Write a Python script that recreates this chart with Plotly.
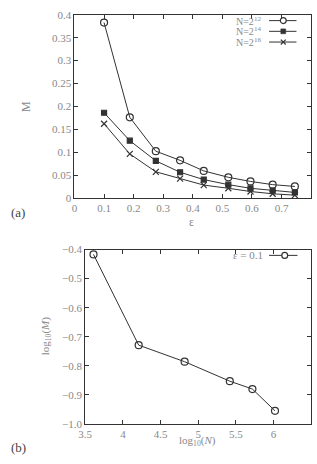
import plotly.graph_objects as go

# Panel (a) data
eps = [0.1, 0.187, 0.275, 0.357, 0.437, 0.52, 0.595, 0.67, 0.745]
m_n12 = [0.383, 0.176, 0.102, 0.082, 0.059, 0.045, 0.036, 0.029, 0.025]
m_n14 = [0.186, 0.125, 0.081, 0.056, 0.040, 0.029, 0.021, 0.016, 0.012]
m_n16 = [0.162, 0.096, 0.057, 0.042, 0.028, 0.021, 0.014, 0.009, 0.006]
names_a = ["N=2<sup>12</sup>", "N=2<sup>14</sup>", "N=2<sup>16</sup>"]

# Panel (b) data
log_n = [3.61, 4.21, 4.82, 5.42, 5.72, 6.02]
log_m = [-0.417, -0.729, -0.786, -0.853, -0.880, -0.955]
name_b = "ε = 0.1"

LINE = "#333333"
GRAY = "#888888"
FONT = "Liberation Serif, serif"

fig = go.Figure()
symbols = ["circle-open", "square", "x-thin-open"]
kinds = ["circle", "square", "x"]
sizes = [7, 5, 6]
for ys, nm, sym, sz in zip([m_n12, m_n14, m_n16], names_a, symbols, sizes):
    fig.add_trace(go.Scatter(
        x=eps, y=ys, name=nm, mode="lines+markers", showlegend=False,
        line=dict(color=LINE, width=1),
        marker=dict(symbol=sym, size=sz, color=LINE, line=dict(color=LINE, width=1.2)),
        xaxis="x", yaxis="y"))

fig.add_trace(go.Scatter(
    x=log_n, y=log_m, name=name_b, mode="lines+markers", showlegend=False,
    line=dict(color=LINE, width=1),
    marker=dict(symbol="circle-open", size=7, color=LINE, line=dict(color=LINE, width=1.2)),
    xaxis="x2", yaxis="y2"))

W, H = 317, 464
def px(x): return x / W
def py(y): return 1 - y / H

axis_common = dict(showline=True, linecolor=LINE, linewidth=1, mirror="ticks",
                   ticks="inside", ticklen=4, tickcolor=LINE, showgrid=False,
                   zeroline=False, tickfont=dict(family=FONT, size=11, color=GRAY))

fig.update_layout(
    width=W, height=H, margin=dict(l=0, r=0, t=0, b=0),
    paper_bgcolor="white", plot_bgcolor="white",
    font=dict(family=FONT, color=GRAY),
    xaxis=dict(domain=[px(69), px(311)], range=[0, 0.8], dtick=0.1, anchor="y", **axis_common),
    yaxis=dict(domain=[py(197), py(9)], range=[0, 0.4], dtick=0.05, anchor="x", **axis_common),
    xaxis2=dict(domain=[px(80), px(311)], range=[3.5, 6.5], dtick=0.5, anchor="y2", **axis_common),
    yaxis2=dict(domain=[py(429), py(250)], range=[-1, -0.4], dtick=0.1, anchor="x2",
                tickformat=".1f", **axis_common),
    showlegend=False,
)

# gnuplot-style key: label, then a sample line with the marker
shapes = []
def key_sample(y, xl, xr, xm, kind):
    yy = py(y)
    shapes.append(dict(type="line", x0=px(xl), x1=px(xr), y0=yy, y1=yy,
                       line=dict(color=LINE, width=1)))
    if kind == "circle":
        r = 3
        shapes.append(dict(type="circle", x0=px(xm - r), x1=px(xm + r), y0=py(y + r), y1=py(y - r),
                           line=dict(color=LINE, width=1.2), fillcolor="white"))
    elif kind == "square":
        r = 2.5
        shapes.append(dict(type="rect", x0=px(xm - r), x1=px(xm + r), y0=py(y + r), y1=py(y - r),
                           line=dict(color=LINE, width=0.5), fillcolor=LINE))
    else:
        r = 2.5
        shapes.append(dict(type="line", x0=px(xm - r), x1=px(xm + r), y0=py(y + r), y1=py(y - r),
                           line=dict(color=LINE, width=1.2)))
        shapes.append(dict(type="line", x0=px(xm - r), x1=px(xm + r), y0=py(y - r), y1=py(y + r),
                           line=dict(color=LINE, width=1.2)))

ann = [
    dict(text="ε", x=px(189), y=py(222), font=dict(size=12, color=GRAY)),
    dict(text="M", x=px(20), y=py(103), textangle=-90, font=dict(size=12, color=GRAY)),
    dict(text="(a)", x=px(11), y=py(212), font=dict(size=13, color="#444444")),
    dict(text="log<sub>10</sub>(<i>N</i>)", x=px(195), y=py(447), font=dict(size=11, color=GRAY)),
    dict(text="log<sub>10</sub>(<i>M</i>)", x=px(40), y=py(339), textangle=-90, font=dict(size=11, color=GRAY)),
    dict(text="(b)", x=px(12), y=py(453), font=dict(size=13, color="#444444")),
]
for i, (nm, kind) in enumerate(zip(names_a, kinds)):
    y = 15 + 11 * i
    ann.append(dict(text=nm, x=px(262), y=py(y), xanchor="right", font=dict(size=10, color=GRAY)))
    key_sample(y, 268, 296, 282.5, kind)
ann.append(dict(text=name_b, x=px(264), y=py(256), xanchor="right", font=dict(size=11, color=GRAY)))
key_sample(256, 268, 297, 284, "circle")

for s in shapes:
    s.update(xref="paper", yref="paper", layer="above")
for a in ann:
    a.setdefault("xanchor", "center")
    a.update(xref="paper", yref="paper", showarrow=False, yanchor="middle")
    a["font"]["family"] = FONT
fig.update_layout(annotations=ann, shapes=shapes)

fig.write_html("out.html")
